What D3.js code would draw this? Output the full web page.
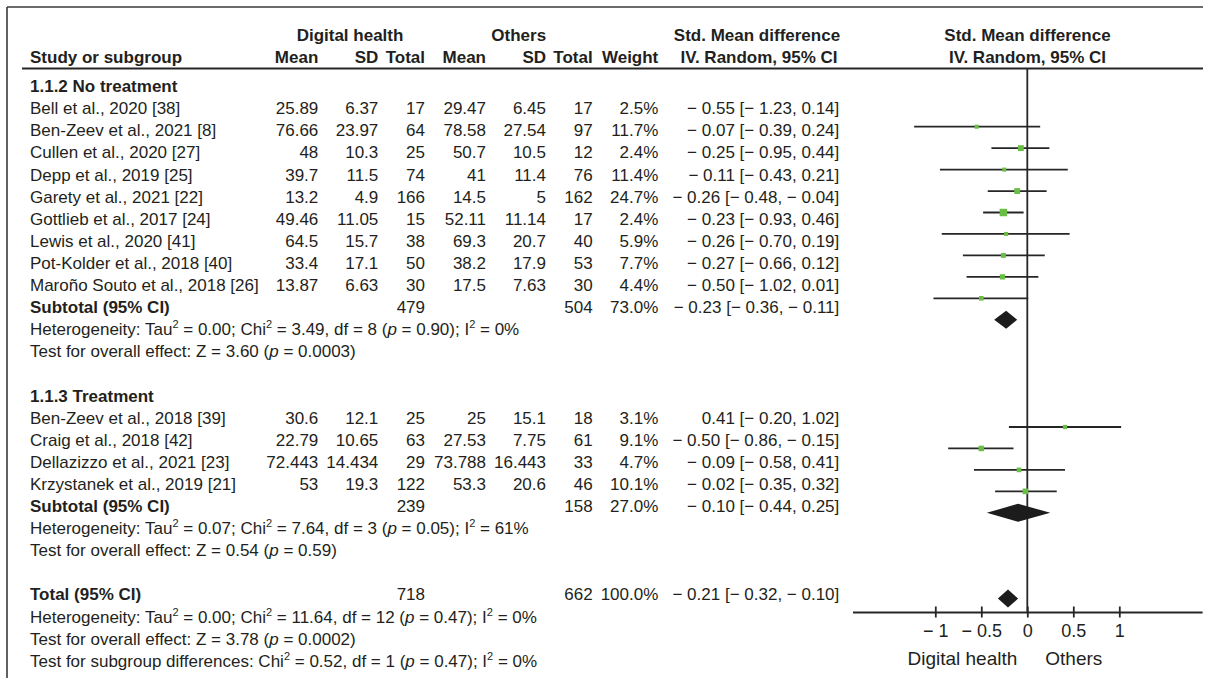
<!DOCTYPE html>
<html>
<head>
<meta charset="utf-8">
<script src="https://cdn.jsdelivr.net/npm/d3@7"></script>
<style>
  html, body { margin: 0; padding: 0; background: #fff; }
  svg { display: block; font-family: "Liberation Sans", Arial, Helvetica, sans-serif; }
</style>
</head>
<body>
<div id="chart"></div>
<script>
// ---------------- DATA ----------------
const studyNames = [
  "Bell et al., 2020 [38]", "Ben-Zeev et al., 2021 [8]", "Cullen et al., 2020 [27]",
  "Depp et al., 2019 [25]", "Garety et al., 2021 [22]", "Gottlieb et al., 2017 [24]",
  "Lewis et al., 2020 [41]", "Pot-Kolder et al., 2018 [40]", "Maroño Souto et al., 2018 [26]",
  "Ben-Zeev et al., 2018 [39]", "Craig et al., 2018 [42]", "Dellazizzo et al., 2021 [23]",
  "Krzystanek et al., 2019 [21]"
];
const dhMean  = [25.89, 76.66, 48, 39.7, 13.2, 49.46, 64.5, 33.4, 13.87, 30.6, 22.79, 72.443, 53];
const dhSD    = [6.37, 23.97, 10.3, 11.5, 4.9, 11.05, 15.7, 17.1, 6.63, 12.1, 10.65, 14.434, 19.3];
const dhTotal = [17, 64, 25, 74, 166, 15, 38, 50, 30, 25, 63, 29, 122];
const otMean  = [29.47, 78.58, 50.7, 41, 14.5, 52.11, 69.3, 38.2, 17.5, 25, 27.53, 73.788, 53.3];
const otSD    = [6.45, 27.54, 10.5, 11.4, 5, 11.14, 20.7, 17.9, 7.63, 15.1, 7.75, 16.443, 20.6];
const otTotal = [17, 97, 12, 76, 162, 17, 40, 53, 30, 18, 61, 33, 46];
const weights = [2.5, 11.7, 2.4, 11.4, 24.7, 2.4, 5.9, 7.7, 4.4, 3.1, 9.1, 4.7, 10.1];
const smd     = [-0.55, -0.07, -0.25, -0.11, -0.26, -0.23, -0.26, -0.27, -0.50, 0.41, -0.50, -0.09, -0.02];
const ciLow   = [-1.23, -0.39, -0.95, -0.43, -0.48, -0.93, -0.70, -0.66, -1.02, -0.20, -0.86, -0.58, -0.35];
const ciHigh  = [0.14, 0.24, 0.44, 0.21, -0.04, 0.46, 0.19, 0.12, 0.01, 1.02, -0.15, 0.41, 0.32];
const studyRows = [0, 1, 2, 3, 4, 5, 6, 7, 8, 14, 15, 16, 17];

const groupTitles = ["1.1.2 No treatment", "1.1.3 Treatment"];
const groupRows = [-1, 13];

const subNames   = ["Subtotal (95% CI)", "Subtotal (95% CI)", "Total (95% CI)"];
const subDhTotal = [479, 239, 718];
const subOtTotal = [504, 158, 662];
const subWeight  = [73.0, 27.0, 100.0];
const subSmd     = [-0.23, -0.10, -0.21];
const subLow     = [-0.36, -0.44, -0.32];
const subHigh    = [-0.11, 0.25, -0.10];
const subRows    = [9, 18, 22];

const hetTau = ["0.00", "0.07", "0.00"];
const hetChi = ["3.49", "7.64", "11.64"];
const hetDf  = [8, 3, 12];
const hetP   = ["0.90", "0.05", "0.47"];
const hetI2  = [0, 61, 0];
const hetRows = [10, 19, 23];
const effZ   = ["3.60", "0.54", "3.78"];
const effP   = ["0.0003", "0.59", "0.0002"];
const effRows = [11, 20, 24];
const sgChi = "0.52", sgDf = 1, sgP = "0.47", sgI2 = 0, sgRow = 25;

const axisTicks = [-1, -0.5, 0, 0.5, 1];
const axisLabels = ["Digital health", "Others"];

// ---------------- LAYOUT ----------------
const W = 1213, H = 687;
const FS = 17;
const textColor = "#231f20";
const lineColor = "#262626";
const green = "#6abd45";

const svg = d3.select("#chart").append("svg").attr("width", W).attr("height", H);

const tableY = d3.scaleLinear().domain([0, 25]).range([108.3, 660.8]);
const plotY  = d3.scaleLinear().domain([0, 22]).range([126.7, 598.6]);
const x = d3.scaleLinear().domain([-1.9, 1.9]).range([852.5, 1202.1]);
const sq = d3.scaleSqrt().domain([0, 25]).range([2.5, 7.5]);

const col = { dhMean: 318.3, dhSD: 378.3, dhTotal: 425, otMean: 486, otSD: 546, otTotal: 592.7, weight: 658.3, ci: 839.3 };
const labelX = 30;

const minus = v => (v < 0 ? "\u2212 " : "") + Math.abs(v).toFixed(2);
const ciText = (m, l, h) => `${minus(m)} [${minus(l)}, ${minus(h)}]`;

// frame
svg.append("line").attr("x1", 7).attr("x2", 1203).attr("y1", 7).attr("y2", 7)
  .attr("stroke", "#3a3a3a").attr("stroke-width", 1.6);
svg.append("line").attr("x1", 7).attr("x2", 7).attr("y1", 7).attr("y2", 678)
  .attr("stroke", "#3a3a3a").attr("stroke-width", 1.6);
// header rule
svg.append("line").attr("x1", 22).attr("x2", 1203).attr("y1", 68.5).attr("y2", 68.5)
  .attr("stroke", lineColor).attr("stroke-width", 1.8);

function txt(xp, yc, s, anchor, bold, size) {
  return svg.append("text").attr("x", xp).attr("y", yc).attr("dy", "0.35em")
    .attr("text-anchor", anchor || "start")
    .attr("font-size", size || FS)
    .attr("font-weight", bold ? "bold" : "normal")
    .attr("fill", textColor).text(s);
}

// headers
const h1 = 35, h2 = 56.7;
txt(350, h1, "Digital health", "middle", true);
txt(518.7, h1, "Others", "middle", true);
txt(757, h1, "Std. Mean difference", "middle", true);
txt(1027.5, h1, "Std. Mean difference", "middle", true);
txt(labelX, h2, "Study or subgroup", "start", true);
txt(col.dhMean, h2, "Mean", "end", true);
txt(col.dhSD, h2, "SD", "end", true);
txt(col.dhTotal, h2, "Total", "end", true);
txt(col.otMean, h2, "Mean", "end", true);
txt(col.otSD, h2, "SD", "end", true);
txt(col.otTotal, h2, "Total", "end", true);
txt(col.weight, h2, "Weight", "end", true);
txt(759, h2, "IV. Random, 95% CI", "middle", true);
txt(1027.5, h2, "IV. Random, 95% CI", "middle", true);

// group titles
groupTitles.forEach((g, i) => txt(labelX, tableY(groupRows[i]), g, "start", true));

// study rows
studyNames.forEach((n, i) => {
  const yc = tableY(studyRows[i]);
  txt(labelX, yc, n);
  txt(col.dhMean, yc, String(dhMean[i]), "end");
  txt(col.dhSD, yc, String(dhSD[i]), "end");
  txt(col.dhTotal, yc, String(dhTotal[i]), "end");
  txt(col.otMean, yc, String(otMean[i]), "end");
  txt(col.otSD, yc, String(otSD[i]), "end");
  txt(col.otTotal, yc, String(otTotal[i]), "end");
  txt(col.weight, yc, weights[i].toFixed(1) + "%", "end");
  txt(col.ci, yc, ciText(smd[i], ciLow[i], ciHigh[i]), "end");
});

// subtotal rows
subNames.forEach((n, i) => {
  const yc = tableY(subRows[i]);
  txt(labelX, yc, n, "start", true);
  txt(col.dhTotal, yc, String(subDhTotal[i]), "end");
  txt(col.otTotal, yc, String(subOtTotal[i]), "end");
  txt(col.weight, yc, subWeight[i].toFixed(1) + "%", "end");
  txt(col.ci, yc, ciText(subSmd[i], subLow[i], subHigh[i]), "end");
});

// rich text lines (superscripts / italics)
function rich(yc, segs) {
  const t = svg.append("text").attr("x", labelX).attr("y", yc).attr("dy", "0.35em")
    .attr("font-size", FS).attr("fill", textColor);
  let raised = false;
  segs.forEach(s => {
    const sp = t.append("tspan").text(s.t);
    if (s.sup) { sp.attr("font-size", 11).attr("dy", -7); raised = true; }
    else if (raised) { sp.attr("dy", 7); raised = false; }
    if (s.it) sp.attr("font-style", "italic");
  });
}
const hetSegs = (tau, chi, df, p, i2) => [
  { t: "Heterogeneity: Tau" }, { t: "2", sup: true }, { t: ` = ${tau}; Chi` }, { t: "2", sup: true },
  { t: ` = ${chi}, df = ${df} (` }, { t: "p", it: true }, { t: ` = ${p}); I` }, { t: "2", sup: true },
  { t: ` = ${i2}%` }
];
hetRows.forEach((r, i) => rich(tableY(r), hetSegs(hetTau[i], hetChi[i], hetDf[i], hetP[i], hetI2[i])));
effRows.forEach((r, i) => rich(tableY(r), [
  { t: `Test for overall effect: Z = ${effZ[i]} (` }, { t: "p", it: true }, { t: ` = ${effP[i]})` }
]));
rich(tableY(sgRow), [
  { t: "Test for subgroup differences: Chi" }, { t: "2", sup: true },
  { t: ` = ${sgChi}, df = ${sgDf} (` }, { t: "p", it: true }, { t: ` = ${sgP}); I` }, { t: "2", sup: true },
  { t: ` = ${sgI2}%` }
]);

// ---------------- FOREST PLOT ----------------
const axisY = 612;
svg.append("line").attr("x1", x(0)).attr("x2", x(0)).attr("y1", 68.5).attr("y2", axisY)
  .attr("stroke", lineColor).attr("stroke-width", 1.8);

const plot = svg.append("g");
studyNames.forEach((n, i) => {
  const yc = plotY(studyRows[i]);
  plot.append("line").attr("x1", x(ciLow[i])).attr("x2", x(ciHigh[i]))
    .attr("y1", yc).attr("y2", yc).attr("stroke", lineColor).attr("stroke-width", 1.8);
  const s = sq(weights[i]);
  plot.append("rect").attr("x", x(smd[i]) - s / 2).attr("y", yc - s / 2)
    .attr("width", s).attr("height", s).attr("fill", green);
});
subNames.forEach((n, i) => {
  const yc = plotY(subRows[i]);
  const hh = 9;
  plot.append("polygon")
    .attr("points", [[x(subLow[i]), yc], [x(subSmd[i]), yc - hh], [x(subHigh[i]), yc], [x(subSmd[i]), yc + hh]].join(" "))
    .attr("fill", "#1c1c1c");
});

// axis
const axis = d3.axisBottom(x).tickValues(axisTicks).tickSizeInner(5.5).tickSizeOuter(0)
  .tickFormat(v => v < 0 ? "\u2212 " + Math.abs(v) : String(v));
const ag = svg.append("g").attr("transform", `translate(0,${axisY})`).call(axis);
ag.select(".domain").attr("stroke", lineColor).attr("stroke-width", 1.8);
ag.selectAll(".tick line").attr("y1", -5.5).attr("y2", 5.5).attr("stroke", lineColor).attr("stroke-width", 1.8);
ag.selectAll(".tick text").attr("y", 19).attr("dy", "0.35em").attr("font-size", 18)
  .attr("fill", textColor).attr("font-family", "'Liberation Sans', Arial, sans-serif");

txt(x(0) - 10, 658, axisLabels[0], "end", false, 19);
txt(x(0) + 18, 658, axisLabels[1], "start", false, 19);
</script>
</body>
</html>
